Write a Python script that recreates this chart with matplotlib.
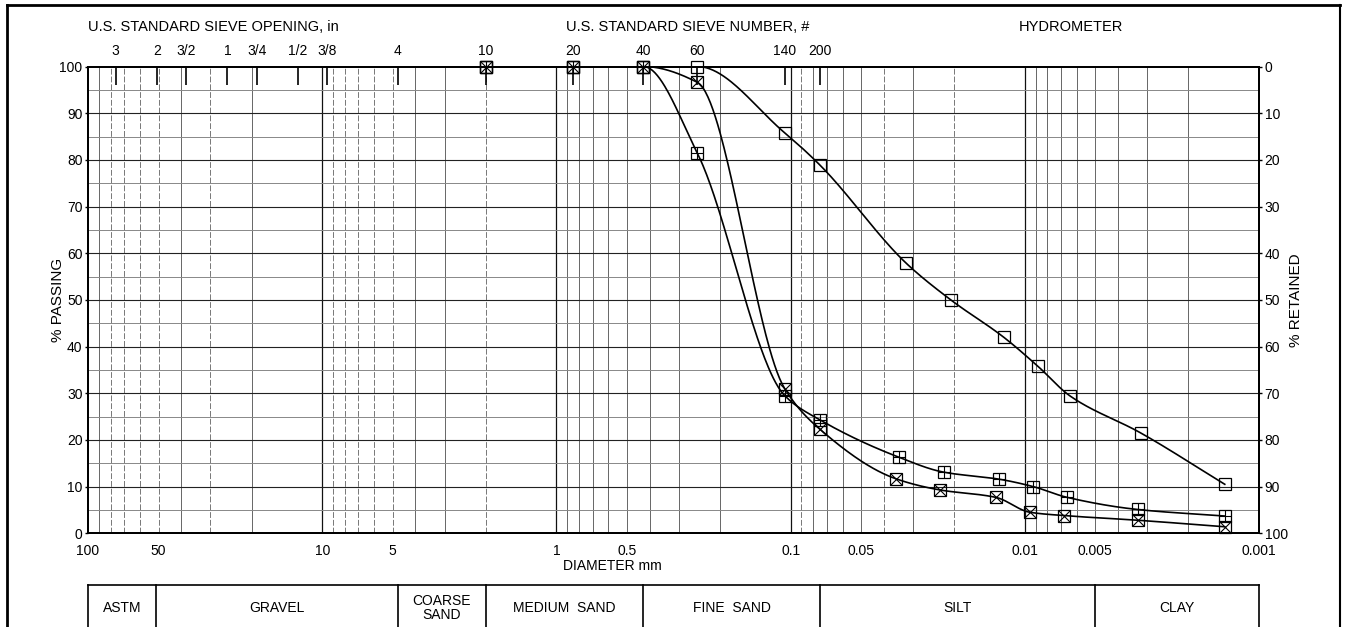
import numpy as np
import matplotlib
matplotlib.use("Agg")
import matplotlib.pyplot as plt
from matplotlib.ticker import NullLocator
from matplotlib.transforms import blended_transform_factory
from matplotlib.lines import Line2D

plt.rcParams['font.family'] = ['Liberation Sans', 'DejaVu Sans']

# ---------------- data ----------------
# sample 1 (open square)
diam_a = [2.0, 0.85, 0.425, 0.25, 0.106, 0.075, 0.032, 0.0207, 0.0123, 0.0088, 0.0064, 0.0032, 0.0014]
pass_a = [100, 100, 100, 100, 85.8, 78.9, 57.8, 50.0, 42.0, 35.8, 29.4, 21.5, 10.5]
# sample 2 (square with plus)
diam_b = [2.0, 0.85, 0.425, 0.25, 0.106, 0.075, 0.0345, 0.0222, 0.0129, 0.0092, 0.0066, 0.0033, 0.0014]
pass_b = [100, 100, 100, 81.4, 29.5, 24.3, 16.3, 13.1, 11.6, 10.0, 7.7, 5.1, 3.7]
# sample 3 (square with x)
diam_c = [2.0, 0.85, 0.425, 0.25, 0.106, 0.075, 0.0356, 0.0231, 0.0133, 0.0095, 0.0068, 0.0033, 0.0014]
pass_c = [100, 100, 100, 96.6, 31.0, 22.3, 11.7, 9.3, 7.7, 4.5, 3.8, 2.8, 1.4]

bottom_ticks = [100, 50, 10, 5, 1, 0.5, 0.1, 0.05, 0.01, 0.005, 0.001]
bottom_labels = ['100', '50', '10', '5', '1', '0.5', '0.1', '0.05', '0.01', '0.005', '0.001']

sieve_mm = [76.2, 50.8, 38.1, 25.4, 19.05, 12.7, 9.525, 4.75, 2.0, 0.85, 0.425, 0.25, 0.106, 0.075]
sieve_labels = ['3', '2', '3/2', '1', '3/4', '1/2', '3/8', '4', '10', '20', '40', '60', '140', '200']

class_bounds = [100, 51, 4.75, 2.0, 0.425, 0.075, 0.005, 0.001]
class_names = ['ASTM', 'GRAVEL', 'COARSE\nSAND', 'MEDIUM  SAND', 'FINE  SAND', 'SILT', 'CLAY']

# ---------------- helpers ----------------
def pchip(x, y, xn):
    x = np.asarray(x, float); y = np.asarray(y, float)
    n = len(x)
    h = np.diff(x)
    delta = np.diff(y) / h
    d = np.zeros(n)
    for k in range(1, n - 1):
        if delta[k - 1] * delta[k] <= 0:
            d[k] = 0.0
        else:
            w1 = 2 * h[k] + h[k - 1]
            w2 = h[k] + 2 * h[k - 1]
            d[k] = (w1 + w2) / (w1 / delta[k - 1] + w2 / delta[k])
    d[0] = delta[0]
    d[-1] = delta[-1]
    out = np.empty_like(xn)
    idx = np.clip(np.searchsorted(x, xn) - 1, 0, n - 2)
    for i, xv in enumerate(xn):
        k = idx[i]
        t = (xv - x[k]) / h[k]
        h00 = 2 * t**3 - 3 * t**2 + 1
        h10 = t**3 - 2 * t**2 + t
        h01 = -2 * t**3 + 3 * t**2
        h11 = t**3 - t**2
        out[i] = h00 * y[k] + h10 * h[k] * d[k] + h01 * y[k + 1] + h11 * h[k] * d[k + 1]
    return out

def smooth_curve(diam, perc):
    u = -np.log10(np.asarray(diam, float))
    un = np.linspace(u[0], u[-1], 600)
    return 10 ** (-un), pchip(u, perc, un)

W, H = 1347, 627
fig = plt.figure(figsize=(W / 100, H / 100), dpi=100)
x0, x1, ytop, ybot = 88, 1259, 66.5, 533.3
ax = fig.add_axes([x0 / W, 1 - ybot / H, (x1 - x0) / W, (ybot - ytop) / H])
ax.set_xscale('log')
ax.set_xlim(100, 0.001)
ax.set_ylim(0, 100)

# grid
dash_subs = {2: [3, 5, 6, 7, 8], 1: [3, 5, 6, 7, 8], 0: [5, 6, 7, 8, 9, 2], -1: [], -2: [9, 4, 2], -3: []}
for e in range(-3, 2):
    for s in range(1, 10):
        v = s * 10.0 ** e
        if v <= 0.001 or v >= 100:
            continue
        if s == 1:
            ax.axvline(v, color='#111111', lw=0.9, zorder=1)
        elif s in dash_subs.get(e, []):
            ax.axvline(v, color='#777777', lw=0.7, ls=(0, (6, 2)), zorder=1)
        else:
            ax.axvline(v, color='#666666', lw=0.7, zorder=1)
for p in range(5, 100, 5):
    if p % 10 == 0:
        ax.axhline(p, color='#222222', lw=0.8, zorder=1)
    else:
        ax.axhline(p, color='#888888', lw=0.7, zorder=1)

# curves
ms = 8.4
for diam, perc, extra in [(diam_a, pass_a, None), (diam_b, pass_b, '+'), (diam_c, pass_c, 'x')]:
    cx, cy = smooth_curve(diam, perc)
    ax.plot(cx, cy, color='k', lw=1.2, zorder=3)
    ax.plot(diam, perc, ls='none', marker='s', ms=ms, mfc='none', mec='k', mew=0.9, zorder=4, clip_on=False)
    if extra:
        ax.plot(diam, perc, ls='none', marker=extra, ms=ms, mec='k', mew=0.8, zorder=4, clip_on=False)

for sp in ax.spines.values():
    sp.set_linewidth(1.2)

ax.set_xticks(bottom_ticks)
ax.set_xticklabels(bottom_labels)
ax.xaxis.set_minor_locator(NullLocator())
ax.tick_params(axis='x', which='both', length=0, pad=8, labelsize=10)
ax.set_yticks(range(0, 101, 10))
ax.tick_params(axis='y', length=2, width=1, pad=2, labelsize=10)

ax2 = ax.twinx()
ax2.set_ylim(100, 0)
ax2.set_yticks(range(0, 101, 10))
ax2.tick_params(axis='y', length=2, width=1, pad=2, labelsize=10)
for sp in ax2.spines.values():
    sp.set_linewidth(1.2)

ax3 = ax.twiny()
ax3.set_xscale('log')
ax3.set_xlim(100, 0.001)
ax3.set_xticks(sieve_mm)
ax3.set_xticklabels(sieve_labels)
ax3.xaxis.set_minor_locator(NullLocator())
ax3.tick_params(axis='x', direction='in', length=13, width=1.2, pad=6, labelsize=10)
for sp in ax3.spines.values():
    sp.set_linewidth(1.2)

def fx(px):
    return px / W

def fy(py):
    return 1 - py / H

fig.text(fx(88), fy(27), 'U.S. STANDARD SIEVE OPENING, in', ha='left', va='center', fontsize=10.5)
fig.text(fx(688), fy(27), 'U.S. STANDARD SIEVE NUMBER, #', ha='center', va='center', fontsize=10.5)
fig.text(fx(1071), fy(27), 'HYDROMETER', ha='center', va='center', fontsize=10.5)
fig.text(fx(58), fy(300), '% PASSING', ha='center', va='center', rotation=90, fontsize=11)
fig.text(fx(1296), fy(300), '% RETAINED', ha='center', va='center', rotation=90, fontsize=11)
fig.text(fx(612), fy(566), 'DIAMETER mm', ha='center', va='center', fontsize=10)

# classification table
tr = blended_transform_factory(ax.transData, fig.transFigure)
ttop = fy(585)
fig.add_artist(Line2D([class_bounds[0], class_bounds[-1]], [ttop, ttop], transform=tr, color='k', lw=1.2))
for b in class_bounds:
    fig.add_artist(Line2D([b, b], [ttop, -0.05], transform=tr, color='k', lw=1.2))
for i, name in enumerate(class_names):
    xm = np.sqrt(class_bounds[i] * class_bounds[i + 1])
    fig.text(xm, fy(608), name, transform=tr, ha='center', va='center', fontsize=10, linespacing=0.95)

# page border
fig.add_artist(Line2D([fx(7), fx(7)], [-0.01, fy(5)], transform=fig.transFigure, color='k', lw=2))
fig.add_artist(Line2D([fx(7), fx(1340)], [fy(5), fy(5)], transform=fig.transFigure, color='k', lw=2))
fig.add_artist(Line2D([fx(1340), fx(1340)], [-0.01, fy(5)], transform=fig.transFigure, color='k', lw=1.5))

fig.savefig('out.png', dpi=100)
